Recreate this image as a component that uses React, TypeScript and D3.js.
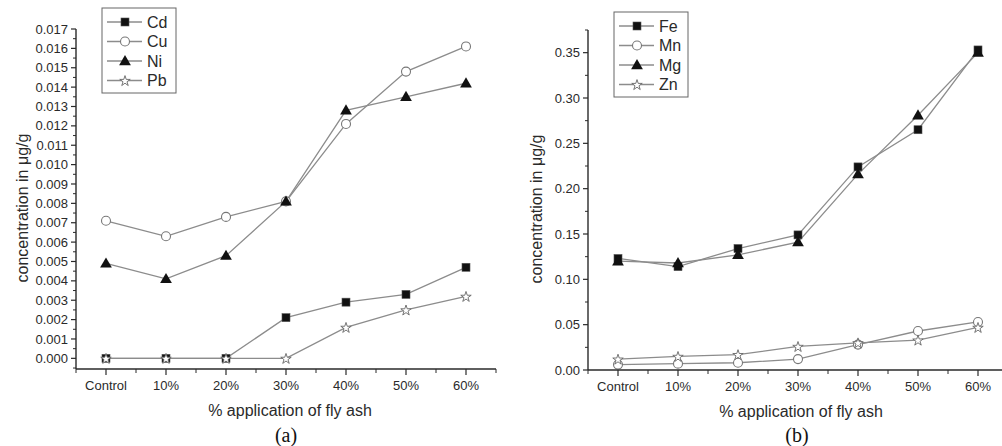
import React from 'react';
import * as d3 from 'd3';

const categories = ['Control', '10%', '20%', '30%', '40%', '50%', '60%'];

// panel (a)
const cd = [0, 0, 0, 0.0021, 0.0029, 0.0033, 0.0047];
const cu = [0.0071, 0.0063, 0.0073, 0.0081, 0.0121, 0.0148, 0.0161];
const ni = [0.0049, 0.0041, 0.0053, 0.0081, 0.0128, 0.0135, 0.0142];
const pb = [0, 0, 0, 0, 0.0016, 0.0025, 0.0032];

// panel (b)
const fe = [0.123, 0.114, 0.134, 0.149, 0.224, 0.265, 0.353];
const mn = [0.006, 0.007, 0.008, 0.012, 0.028, 0.043, 0.053];
const mg = [0.120, 0.118, 0.127, 0.141, 0.216, 0.281, 0.350];
const zn = [0.012, 0.015, 0.017, 0.026, 0.030, 0.033, 0.047];

const ticksA = d3.range(0, 0.01701, 0.001);
const ticksB = d3.range(0, 0.3501, 0.05);

const FONT = '"Liberation Sans", Arial, sans-serif';
const LINE = '#8c8c8c';
const AXIS = '#2a2a2a';

type Sym = 'square' | 'circle' | 'triangle' | 'star';

const Marker = ({ type, x, y }: { type: Sym; x: number; y: number }) => {
  if (type === 'square') return <rect x={x - 4} y={y - 4} width={8} height={8} fill="#111" stroke="#555" strokeWidth={0.6} />;
  if (type === 'circle') return <circle cx={x} cy={y} r={4.5} fill="#fff" stroke="#777" strokeWidth={1.1} />;
  if (type === 'triangle') {
    const p = d3.symbol(d3.symbolTriangle, 60)();
    return <path d={p!} transform={`translate(${x},${y + 0.8})`} fill="#111" />;
  }
  const p = d3.symbol(d3.symbolStar, 34)();
  return <path d={p!} transform={`translate(${x},${y + 0.6})`} fill="#fff" stroke="#666" strokeWidth={0.9} />;
};

type Series = { name: string; values: number[]; sym: Sym };

const Panel = ({
  series, left, right, top, bottom, domain, ticks, fmt, minorStep, legendX, legendY, tag, titleX, yTitleX,
}: {
  series: Series[]; left: number; right: number; top: number; bottom: number;
  domain: [number, number]; ticks: number[]; fmt: (n: number) => string; minorStep: number;
  legendX: number; legendY: number; tag: string; titleX: number; yTitleX: number;
}) => {
  const x = d3.scalePoint<string>().domain(categories).range([left, right]).padding(0.5);
  const y = d3.scaleLinear().domain(domain).range([bottom, top]);
  const step = x.step();
  const line = d3.line<number>().x((_, i) => x(categories[i])!).y(d => y(d));
  const minorY = d3.range(domain[0] < 0 ? -minorStep : 0, domain[1] + 1e-9, minorStep)
    .filter(v => v >= domain[0] - 1e-9 && !ticks.some(t => Math.abs(t - v) < 1e-9));
  const minorX = d3.range(0, categories.length + 1).map(i => left + i * step);

  return (
    <g fontFamily={FONT}>
      {/* lines then markers */}
      {series.map(s => (
        <path key={s.name} d={line(s.values)!} fill="none" stroke={LINE} strokeWidth={1.3} />
      ))}
      {series.map(s =>
        s.values.map((v, i) => <Marker key={s.name + i} type={s.sym} x={x(categories[i])!} y={y(v)} />)
      )}

      {/* y axis */}
      <line x1={left} x2={left} y1={top} y2={bottom} stroke={AXIS} strokeWidth={1.4} />
      {ticks.map(t => (
        <g key={t}>
          <line x1={left - 5} x2={left} y1={y(t)} y2={y(t)} stroke={AXIS} strokeWidth={1.2} />
          <text x={left - 8} y={y(t)} dy="0.35em" textAnchor="end" fontSize={13} fill={AXIS}>{fmt(t)}</text>
        </g>
      ))}
      {minorY.map(t => (
        <line key={'m' + t} x1={left - 3} x2={left} y1={y(t)} y2={y(t)} stroke={AXIS} strokeWidth={1} />
      ))}
      <text transform={`translate(${yTitleX},${(top + bottom) / 2 + 9}) rotate(-90)`} textAnchor="middle" fontSize={16} fill={AXIS}>
        concentration in μg/g
      </text>

      {/* x axis */}
      <line x1={left} x2={right} y1={bottom} y2={bottom} stroke={AXIS} strokeWidth={1.4} />
      {categories.map(c => (
        <g key={c}>
          <line x1={x(c)} x2={x(c)} y1={bottom} y2={bottom + 6} stroke={AXIS} strokeWidth={1.2} />
          <text x={x(c)} y={bottom + 21} textAnchor="middle" fontSize={13} fill={AXIS}>{c}</text>
        </g>
      ))}
      {minorX.map(v => (
        <line key={'mx' + v} x1={v} x2={v} y1={bottom} y2={bottom + 4} stroke={AXIS} strokeWidth={1} />
      ))}
      <text x={titleX} y={bottom + 47} textAnchor="middle" fontSize={16} fill={AXIS}>% application of fly ash</text>
      <text x={titleX - 4} y={442} textAnchor="middle" fontSize={20} fontFamily='"Liberation Serif", "DejaVu Serif", serif' fill="#111">{tag}</text>

      {/* legend */}
      <rect x={legendX} y={legendY} width={74} height={85} fill="#fff" stroke="#666" strokeWidth={1} />
      {series.map((s, i) => {
        const ly = legendY + 14 + i * 19.5;
        return (
          <g key={'l' + s.name}>
            <line x1={legendX + 5} x2={legendX + 40} y1={ly} y2={ly} stroke={LINE} strokeWidth={1.3} />
            <Marker type={s.sym} x={legendX + 23} y={ly} />
            <text x={legendX + 45} y={ly} dy="0.36em" fontSize={16} fill={AXIS}>{s.name}</text>
          </g>
        );
      })}
    </g>
  );
};

export default function App() {
  return (
    <div style={{ position: 'absolute', left: 0, top: 0 }}>
      <svg width={1002} height={446} style={{ display: 'block', background: '#fff' }}>
        <Panel
          series={[
            { name: 'Cd', values: cd, sym: 'square' },
            { name: 'Cu', values: cu, sym: 'circle' },
            { name: 'Ni', values: ni, sym: 'triangle' },
            { name: 'Pb', values: pb, sym: 'star' },
          ]}
          left={76} right={496} top={29} bottom={369}
          domain={[-0.00055, 0.017]} ticks={ticksA} fmt={d3.format('.3f')} minorStep={0.0005}
          legendX={102} legendY={8} tag="(a)" titleX={290} yTitleX={28}
        />
        <Panel
          series={[
            { name: 'Fe', values: fe, sym: 'square' },
            { name: 'Mn', values: mn, sym: 'circle' },
            { name: 'Mg', values: mg, sym: 'triangle' },
            { name: 'Zn', values: zn, sym: 'star' },
          ]}
          left={588} right={1008} top={30} bottom={370}
          domain={[0, 0.375]} ticks={ticksB} fmt={d3.format('.2f')} minorStep={0.025}
          legendX={614} legendY={12} tag="(b)" titleX={801} yTitleX={542}
        />
      </svg>
    </div>
  );
}
